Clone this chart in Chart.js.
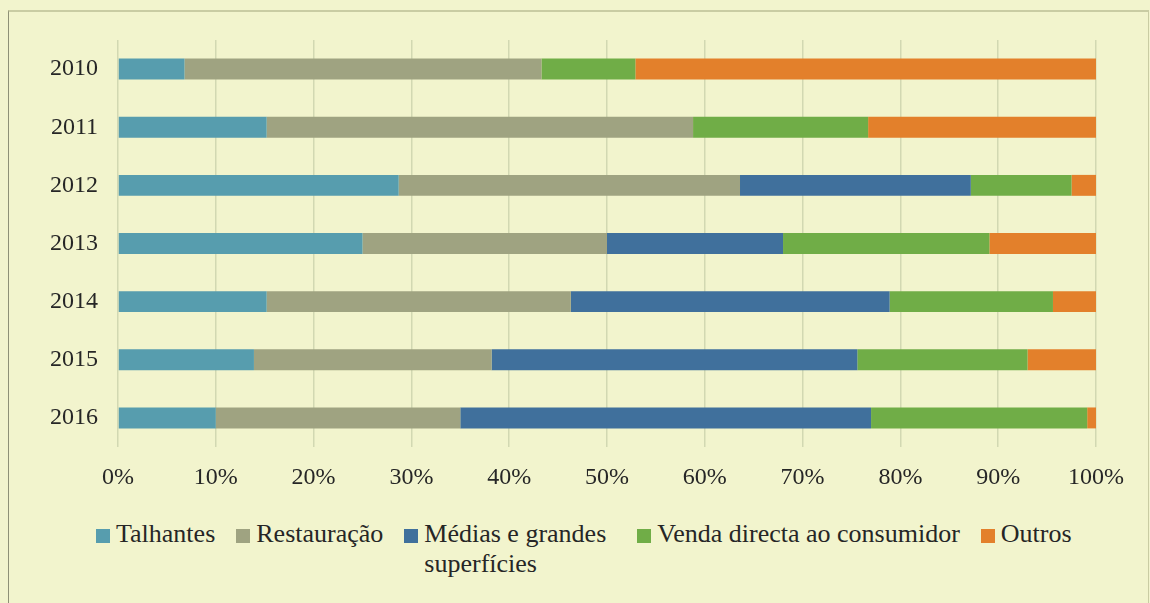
<!DOCTYPE html>
<html>
<head>
<meta charset="utf-8">
<script src="https://cdn.jsdelivr.net/npm/chart.js@4"></script>
<style>
  html, body { margin: 0; padding: 0; background: #F2F4CD; }
  body { width: 1150px; height: 603px; position: relative; overflow: hidden; font-family: "Liberation Serif", "Times New Roman", serif; }
  #frame { position: absolute; left: 8px; top: 10px; width: 1139px; height: 600px; border-top: 2px solid #C9CCA3; border-left: 1px solid #8E9076; border-right: 1px solid #C9CCA3; }
  #wrap { position: absolute; left: 0; top: 0; width: 1150px; height: 510px; }
  #legend { position: absolute; left: 96px; top: 519px; display: flex; align-items: flex-start; color: #262626; font-size: 26px; line-height: 30px; }
  .item { display: flex; align-items: flex-start; margin-right: 21px; }
  .box { width: 14px; height: 14px; margin-top: 10px; margin-right: 6px; flex: none; }
</style>
</head>
<body>
<div id="frame"></div>
<div id="wrap"><canvas id="chart"></canvas></div>
<div id="legend"></div>
<script>
const years = ['2010', '2011', '2012', '2013', '2014', '2015', '2016'];
const seriesNames = ['Talhantes', 'Restauração', 'Médias e grandes superfícies', 'Venda directa ao consumidor', 'Outros'];
const talhantes = [6.8, 15.2, 28.7, 25.0, 15.2, 13.9, 10.0];
const restauracao = [36.5, 43.6, 34.9, 25.0, 31.1, 24.3, 25.0];
const mediasGrandes = [0, 0, 23.6, 18.0, 32.6, 37.4, 42.0];
const vendaDirecta = [9.6, 17.9, 10.3, 21.1, 16.7, 17.4, 22.1];
const outros = [47.1, 23.3, 2.5, 10.9, 4.4, 7.0, 0.9];
const xTicks = [0, 10, 20, 30, 40, 50, 60, 70, 80, 90, 100];

const colors = ['#579DAE', '#9FA381', '#40709C', '#70AD47', '#E3802B'];
const values = [talhantes, restauracao, mediasGrandes, vendaDirecta, outros];

const font = { family: '"Liberation Serif", "Times New Roman", serif', size: 24 };

function draw() {
  new Chart(document.getElementById('chart'), {
    type: 'bar',
    data: {
      labels: years,
      datasets: seriesNames.map((name, i) => ({
        label: name,
        data: values[i],
        backgroundColor: colors[i],
        borderWidth: 0,
        barPercentage: 0.36,
        categoryPercentage: 1
      }))
    },
    options: {
      indexAxis: 'y',
      responsive: true,
      maintainAspectRatio: false,
      animation: false,
      layout: { padding: { top: 40, right: 54, left: 0, bottom: 0 } },
      plugins: { legend: { display: false }, tooltip: { enabled: false } },
      scales: {
        x: {
          stacked: true,
          min: 0,
          max: 100,
          afterBuildTicks: (scale) => { scale.ticks = xTicks.map(v => ({ value: v })); },
          ticks: { callback: v => v + '%', color: '#262626', font, padding: 16, maxRotation: 0 },
          grid: { color: '#D2D8B2', lineWidth: 1.5, drawTicks: false },
          border: { display: false },
          afterFit: (scale) => { scale.height = 63; }
        },
        y: {
          stacked: true,
          ticks: { color: '#262626', font, padding: 20 },
          grid: { display: false, drawTicks: false },
          border: { display: false },
          afterFit: (scale) => { scale.width = 118; }
        }
      }
    }
  });
}

const legend = document.getElementById('legend');
seriesNames.forEach((name, i) => {
  const item = document.createElement('div');
  item.className = 'item';
  const box = document.createElement('span');
  box.className = 'box';
  box.style.background = colors[i];
  const txt = document.createElement('span');
  txt.textContent = name;
  if (i === 2) txt.style.maxWidth = '192px';
  else txt.style.whiteSpace = 'nowrap';
  item.appendChild(box);
  item.appendChild(txt);
  legend.appendChild(item);
});

// canvas text only uses the serif face once it is loaded
document.fonts.load('24px "Liberation Serif"').then(draw, draw);
</script>
</body>
</html>
